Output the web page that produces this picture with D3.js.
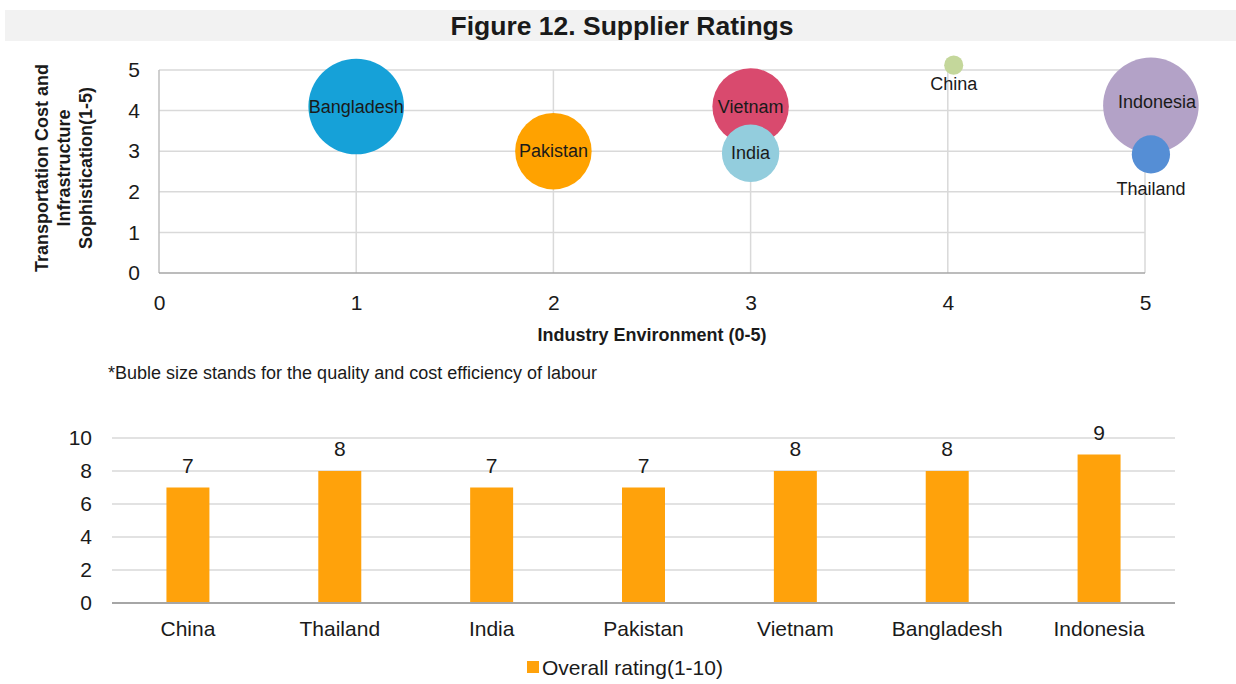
<!DOCTYPE html>
<html>
<head>
<meta charset="utf-8">
<script src="https://cdn.jsdelivr.net/npm/d3@7"></script>
<style>
  html, body { margin: 0; padding: 0; background: #fff; }
  svg { display: block; }
  text { font-family: "Liberation Sans", Arial, Helvetica, sans-serif; fill: #1a1a1a; }
</style>
</head>
<body>
<svg id="chart" width="1236" height="684"></svg>
<script>
// ---------- DATA ----------
const titleText = "Figure 12. Supplier Ratings";

// Bubble chart
const bubbleCountries = ["Bangladesh", "Pakistan", "Vietnam", "India", "China", "Indonesia", "Thailand"];
const industryEnvironment = [1, 2, 3, 3, 4.03, 5.03, 5.03];          // x (0-5)
const transportInfra = [4.1, 3, 4.1, 2.95, 5.12, 4.13, 2.92];       // y (1-5)
const labourQuality = [5, 4, 4, 3, 1, 5, 2];                        // bubble size
const bubbleXTicks = [0, 1, 2, 3, 4, 5];
const bubbleYTicks = [0, 1, 2, 3, 4, 5];
const bubbleXTitle = "Industry Environment (0-5)";
const bubbleYTitle = ["Transportation Cost and", "Infrastructure", "Sophistication(1-5)"];
const footnote = "*Buble size stands for the quality and cost efficiency of labour";

// Bar chart
const barCategories = ["China", "Thailand", "India", "Pakistan", "Vietnam", "Bangladesh", "Indonesia"];
const overallRating = [7, 8, 7, 7, 8, 8, 9];
const barYTicks = [0, 2, 4, 6, 8, 10];
const barSeriesName = "Overall rating(1-10)";

// ---------- STYLE ----------
const bubbleColors = {
  Bangladesh: "#16a1d8", Pakistan: "#ffa200", Vietnam: "#d94a6e", India: "#93cddd",
  China: "#c4d79b", Indonesia: "#b3a2c7", Thailand: "#558ed5"
};
// label placement style: offsets below the bubble edge (px); others centred
const labelBelowOffset = { China: 15, Thailand: 21 };
const labelCenterShift = { Indonesia: [6, -3] };
const barColor = "#ffa20b";
const gridColor = "#d9d9d9";
const axisColor = "#a6a6a6";

const svg = d3.select("#chart");

// ---------- TITLE ----------
svg.append("rect").attr("x", 5).attr("y", 10).attr("width", 1231).attr("height", 31).attr("fill", "#f2f2f2");
svg.append("text").attr("x", 622).attr("y", 35).attr("text-anchor", "middle")
  .attr("font-weight", "bold").attr("font-size", 26.5).text(titleText);

// ---------- BUBBLE CHART ----------
const bx = d3.scaleLinear().domain([0, 5]).range([159, 1145]);
const by = d3.scaleLinear().domain([0, 5]).range([273, 70]);
const br = d3.scaleLinear().domain([0, 5]).range([0, 47.8]);

const gB = svg.append("g");
// grid
gB.selectAll("line.hg").data(bubbleYTicks.filter(d => d > 0)).join("line")
  .attr("x1", bx(0)).attr("x2", bx(5)).attr("y1", d => by(d)).attr("y2", d => by(d))
  .attr("stroke", gridColor).attr("stroke-width", 1.5);
gB.selectAll("line.vg").data(bubbleXTicks.filter(d => d > 0)).join("line")
  .attr("y1", by(0)).attr("y2", by(5)).attr("x1", d => bx(d)).attr("x2", d => bx(d))
  .attr("stroke", gridColor).attr("stroke-width", 1.5);
// axis lines
gB.append("line").attr("x1", bx(0)).attr("x2", bx(0)).attr("y1", by(0)).attr("y2", by(5))
  .attr("stroke", "#bfbfbf").attr("stroke-width", 1.5);
gB.append("line").attr("x1", bx(0)).attr("x2", bx(5)).attr("y1", by(0)).attr("y2", by(0))
  .attr("stroke", axisColor).attr("stroke-width", 1.5);

// tick labels via d3 axes
const axYB = gB.append("g").attr("transform", `translate(${bx(0)},0)`)
  .call(d3.axisLeft(by).tickValues(bubbleYTicks).tickSize(0).tickPadding(19).tickFormat(d3.format("d")));
const axXB = gB.append("g").attr("transform", `translate(0,${by(0)})`)
  .call(d3.axisBottom(bx).tickValues(bubbleXTicks).tickSize(0).tickPadding(22).tickFormat(d3.format("d")));
[axYB, axXB].forEach(a => {
  a.select(".domain").remove();
  a.selectAll("text").attr("font-size", 21).attr("fill", "#1a1a1a")
    .attr("font-family", '"Liberation Sans", Arial, sans-serif');
});

// bubbles
const bubbles = bubbleCountries.map((c, i) => ({
  name: c, x: industryEnvironment[i], y: transportInfra[i], s: labourQuality[i]
}));
gB.selectAll("circle.b").data(bubbles).join("circle")
  .attr("cx", d => bx(d.x)).attr("cy", d => by(d.y)).attr("r", d => br(d.s))
  .attr("fill", d => bubbleColors[d.name]);
gB.selectAll("text.bl").data(bubbles).join("text")
  .attr("x", d => bx(d.x) + (labelCenterShift[d.name] ? labelCenterShift[d.name][0] : 0))
  .attr("y", d => d.name in labelBelowOffset
      ? by(d.y) + br(d.s) + labelBelowOffset[d.name]
      : by(d.y) + 6 + (labelCenterShift[d.name] ? labelCenterShift[d.name][1] : 0))
  .attr("text-anchor", "middle").attr("font-size", 18).text(d => d.name);

// axis titles
svg.append("text").attr("x", (bx(0) + bx(5)) / 2).attr("y", 341).attr("text-anchor", "middle")
  .attr("font-weight", "bold").attr("font-size", 18).text(bubbleXTitle);
const yTitleBase = [48, 70, 92];
bubbleYTitle.forEach((t, i) => {
  svg.append("text").attr("transform", `translate(${yTitleBase[i]},168) rotate(-90)`)
    .attr("text-anchor", "middle").attr("font-weight", "bold").attr("font-size", 18).text(t);
});
svg.append("text").attr("x", 108).attr("y", 379).attr("font-size", 18).text(footnote);

// ---------- BAR CHART ----------
const xb = d3.scaleBand().domain(barCategories).range([112, 1175]).paddingInner(0.717).paddingOuter(0.3585);
const yb = d3.scaleLinear().domain([0, 10]).range([603, 438]);
const gC = svg.append("g");
gC.selectAll("line.g").data(barYTicks.filter(d => d > 0)).join("line")
  .attr("x1", 112).attr("x2", 1175).attr("y1", d => yb(d)).attr("y2", d => yb(d))
  .attr("stroke", gridColor).attr("stroke-width", 1.5);

const bars = barCategories.map((c, i) => ({ c, v: overallRating[i] }));
gC.selectAll("rect.bar").data(bars).join("rect")
  .attr("x", d => xb(d.c)).attr("width", xb.bandwidth())
  .attr("y", d => yb(d.v)).attr("height", d => yb(0) - yb(d.v))
  .attr("fill", barColor);
gC.append("line").attr("x1", 112).attr("x2", 1175).attr("y1", yb(0)).attr("y2", yb(0))
  .attr("stroke", axisColor).attr("stroke-width", 2);

gC.selectAll("text.dl").data(bars).join("text")
  .attr("x", d => xb(d.c) + xb.bandwidth() / 2).attr("y", d => yb(d.v) - 15)
  .attr("text-anchor", "middle").attr("font-size", 21).text(d => d.v);

const axYC = gC.append("g").attr("transform", "translate(112,0)")
  .call(d3.axisLeft(yb).tickValues(barYTicks).tickSize(0).tickPadding(20));
const axXC = gC.append("g").attr("transform", `translate(0,${yb(0)})`)
  .call(d3.axisBottom(xb).tickSize(0).tickPadding(18));
[axYC, axXC].forEach(a => {
  a.select(".domain").remove();
  a.selectAll("text").attr("font-size", 21).attr("fill", "#1a1a1a")
    .attr("font-family", '"Liberation Sans", Arial, sans-serif');
});

// legend
svg.append("rect").attr("x", 527).attr("y", 661).attr("width", 12).attr("height", 12).attr("fill", barColor);
svg.append("text").attr("x", 542).attr("y", 675).attr("font-size", 21).text(barSeriesName);
</script>
</body>
</html>
